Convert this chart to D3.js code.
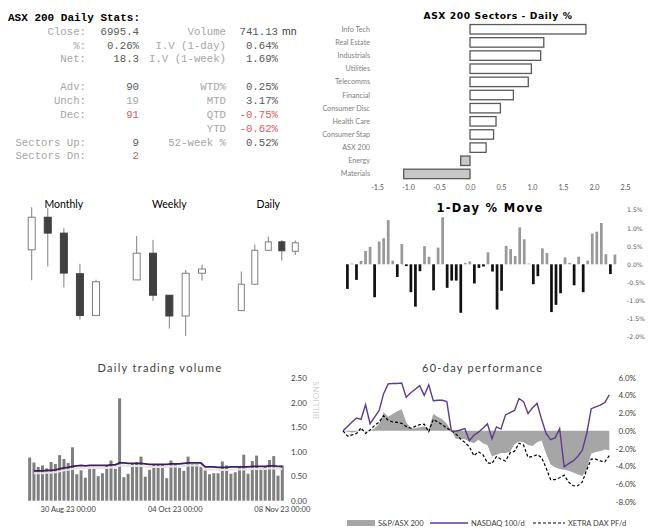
<!DOCTYPE html>
<html><head><meta charset="utf-8">
<script src="https://cdn.jsdelivr.net/npm/d3@7"></script>
<style>body{margin:0;background:#fff}svg{display:block}</style>
</head><body>
<svg id="c" width="651" height="530"></svg>
<script>
// ---------------- DATA ----------------
const statLabelsL = ["Close:","%:","Net:","Adv:","Unch:","Dec:","Sectors Up:","Sectors Dn:"];
const statValuesL = ["6995.4","0.26%","18.3","90","19","91","9","2"];
const statRowsL   = [0,1,2,4,5,6,8,9];
const statToneL   = ["dark","dark","dark","dark","light","red","dark","red"];
const statLabelsR = ["Volume","I.V (1-day)","I.V (1-week)","WTD%","MTD","QTD","YTD","52-week %"];
const statValuesR = ["741.13","0.64%","1.69%","0.25%","3.17%","-0.75%","-0.62%","0.52%"];
const statRowsR   = [0,1,2,4,5,6,7,8];
const statToneR   = ["dark","dark","dark","dark","dark","red","red","dark"];

const sectors   = ["Info Tech","Real Estate","Industrials","Utilities","Telecomms","Financial","Consumer Disc","Health Care","Consumer Stap","ASX 200","Energy","Materials"];
const sectorPct = [1.87,1.19,1.14,0.99,0.94,0.70,0.49,0.42,0.38,0.26,-0.15,-1.07];
const sectorTicks = [-1.5,-1.0,-0.5,0,0.5,1.0,1.5,2.0,2.5];

const candleTitles = ["Monthly","Weekly","Daily"];
const monthlyOHLC = [[7198,7468,7004,7405],[7405,7462,7092,7304],[7304,7335,6959,7050],[7046,7109,6755,6781],[6781,7008,6781,6995]];
const weeklyOHLC  = [[6951,7129,6951,7059],[7059,7113,6866,6889],[6889,6889,6754,6805],[6805,6991,6724,6978],[6978,7012,6948,6995]];
const dailyOHLC   = [[6851,6934,6851,6907],[6907,6991,6907,6979],[6979,7008,6979,6997],[6997,7001,6957,6978],[6977,7000,6969,6995]];
const candleDomains = [[6650,7470],[6724,7246],[6797,7071]];

const dayMove = [-0.68,0.02,-0.43,0.09,0.37,0.48,-0.91,0.63,0.72,1.22,0.10,-0.35,0.56,-0.05,-0.77,-1.17,-0.19,0.50,0.21,-0.72,
  0.46,1.30,-0.65,-0.45,-0.45,-1.34,0.04,0.08,-0.53,-0.10,-0.06,0.33,-0.20,-1.25,-0.73,0.51,0.42,0.23,1.02,0.69,
  0.02,-0.55,-0.33,0.44,0.31,-1.32,-1.12,-0.80,0.19,0.04,-0.58,0.21,-0.77,0.10,0.85,0.90,1.14,0.28,-0.27,0.27];
const dayMoveTicks = [1.5,1.0,0.5,0,-0.5,-1.0,-1.5,-2.0];

const volume = [0.88,0.78,0.69,0.72,0.66,0.79,0.75,0.93,0.85,0.77,1.09,0.54,0.62,0.47,0.69,0.69,0.50,0.56,0.72,0.82,
  0.65,2.09,0.48,0.55,0.75,0.79,0.90,0.49,0.63,0.75,0.73,0.75,0.46,0.82,0.75,0.67,0.61,0.90,0.75,0.75,
  0.69,0.62,0.54,0.56,0.56,0.80,0.72,0.55,0.58,0.69,0.94,0.55,0.81,0.92,0.65,0.69,0.83,0.91,0.51,0.72];
const volumeAvg = [null,0.61,0.61,0.61,0.62,0.62,0.63,0.65,0.67,0.68,0.70,0.71,0.72,0.71,0.72,0.72,0.72,0.72,0.72,0.73,
  0.73,0.77,0.77,0.76,0.76,0.76,0.76,0.75,0.74,0.74,0.74,0.74,0.74,0.75,0.75,0.75,0.76,0.77,0.77,0.77,
  0.77,0.69,0.69,0.69,0.68,0.68,0.68,0.69,0.69,0.69,0.69,0.69,0.70,0.70,0.70,0.70,0.71,0.71,0.70,0.70];
const volumeTicks = [0,0.5,1.0,1.5,2.0,2.5];
const volumeDateIdx = [9,34,59];
const volumeDateLabels = ["30 Aug 23 00:00","04 Oct 23 00:00","08 Nov 23 00:00"];

const perfASX = [0.0,-0.1,-0.2,-0.1,0.2,-0.1,0.0,0.3,0.8,2.1,1.6,1.9,2.2,2.45,1.0,0.3,0.3,0.4,0.5,0.2,
  1.9,1.6,1.3,0.8,0.0,-0.9,-0.9,-0.95,-1.2,-1.4,-1.0,-1.4,-1.6,-2.9,-2.7,-2.5,-2.5,-2.4,-1.5,-1.2,
  -1.3,-1.6,-1.7,-1.3,-1.1,-2.6,-3.8,-4.1,-4.3,-4.4,-4.5,-4.7,-4.9,-5.1,-4.4,-2.6,-2.4,-2.3,-2.1,-2.2];
const perfNASDAQ = [0.0,0.5,1.0,1.45,1.3,2.95,0.8,1.55,2.3,4.2,5.3,5.35,5.35,5.4,3.8,4.3,4.7,5.1,4.0,5.2,
  3.4,3.45,3.45,3.3,0.0,-0.05,0.1,0.25,-1.1,-0.5,-0.15,0.3,0.8,-0.9,0.45,0.2,1.8,2.05,2.3,3.65,
  3.3,1.95,2.6,3.1,1.3,-0.3,-1.0,-0.8,0.25,-4.05,-3.7,-3.4,-2.9,-2.2,-0.3,2.5,2.7,2.9,3.2,4.05];
const perfDAX = [0.0,-0.6,-0.45,-0.3,0.35,-0.3,0.1,0.6,1.0,1.7,1.2,1.0,0.95,0.85,0.5,0.3,0.5,0.7,0.75,-0.1,
  1.3,1.0,0.7,0.3,0.05,-0.35,-0.9,-1.3,-1.8,-2.8,-2.35,-2.7,-3.6,-3.7,-2.9,-3.2,-3.4,-2.5,-2.3,-1.4,
  -1.6,-3.0,-2.9,-2.7,-3.0,-4.2,-5.5,-5.5,-5.3,-5.0,-5.8,-6.2,-6.2,-5.8,-4.4,-3.2,-3.2,-3.4,-3.5,-2.8];
const perfTicks = [6,4,2,0,-2,-4,-6,-8];
const perfLegend = ["S&P/ASX 200","NASDAQ 100/d","XETRA DAX PF/d"];

// ---------------- DRAW ----------------
const svg = d3.select("#c");
const MONO = "'Liberation Mono','DejaVu Sans Mono',monospace";
const SANS = "Lato,'Open Sans',sans-serif";
const tone = {dark:"#595959", light:"#a6a6a6", red:"#e05a5a"};

// ---- Stats table
const stats = svg.append("g");
stats.append("text").attr("x",8).attr("y",21).text("ASX 200 Daily Stats:")
  .attr("font-family",MONO).attr("font-weight","bold").attr("font-size",11).attr("fill","#000");
const rowY = d3.scaleLinear().domain([0,9]).range([31,155.7]);
function statCol(labels, values, rows, tones, lx, vx){
  labels.forEach((l,i)=>{
    stats.append("text").attr("x",lx).attr("y",rowY(rows[i])).attr("dy","0.35em").attr("text-anchor","end")
      .attr("font-family",MONO).attr("font-size",10.7).attr("fill",tone.light).text(l);
    stats.append("text").attr("x",vx).attr("y",rowY(rows[i])).attr("dy","0.35em").attr("text-anchor","end")
      .attr("font-family",MONO).attr("font-size",10.7).attr("fill",tone[tones[i]]).text(values[i]);
  });
}
statCol(statLabelsL,statValuesL,statRowsL,statToneL,86,139);
statCol(statLabelsR,statValuesR,statRowsR,statToneR,226,278);
stats.append("text").attr("x",282).attr("y",rowY(0)).attr("dy","0.35em").attr("font-family",SANS)
  .attr("font-size",10.5).attr("fill","#404040").text("mn");

// ---- Sector bars
const sg = svg.append("g");
const sx = d3.scaleLinear().domain([-1.5,2.5]).range([377,625]);
const sy = d3.scaleBand().domain(sectors).range([22.7,180.5]).paddingInner(0.28).paddingOuter(0.14);
sg.append("text").attr("x",498).attr("y",18.5).attr("text-anchor","middle")
  .attr("font-family","'DejaVu Sans',sans-serif").attr("font-weight","bold").attr("font-size",9.2)
  .attr("letter-spacing",0.6).attr("fill","#000").text("ASX 200 Sectors - Daily %");
sg.selectAll("rect.s").data(sectors).join("rect")
  .attr("x",(d,i)=>sx(Math.min(0,sectorPct[i])))
  .attr("y",d=>sy(d)).attr("height",sy.bandwidth())
  .attr("width",(d,i)=>Math.abs(sx(sectorPct[i])-sx(0)))
  .attr("fill",(d,i)=>sectorPct[i]>=0?"#fff":"#c8c8c8")
  .attr("stroke","#595959").attr("stroke-width",1.3);
sg.selectAll("text.lab").data(sectors).join("text").attr("class","lab")
  .attr("x",370).attr("y",d=>sy(d)+sy.bandwidth()/2).attr("dy","0.35em").attr("text-anchor","end")
  .attr("font-family",SANS).attr("font-size",7.2).attr("fill","#7f7f7f").text(d=>d);
const sAxis = sg.append("g").attr("transform","translate(0,183)")
  .call(d3.axisBottom(sx).tickValues(sectorTicks).tickFormat(d=>d.toFixed(1)).tickSize(0).tickPadding(2));
sAxis.select(".domain").remove();
sAxis.selectAll("text").attr("font-family",SANS).attr("font-size",7.2).attr("fill","#595959");

// ---- Candlesticks
const candleSets = [monthlyOHLC, weeklyOHLC, dailyOHLC];
const candleX = [[31.7,96],[136.7,202],[241.3,295.3]];
const candleW = [7,7,6];
candleSets.forEach((set,k)=>{
  const g = svg.append("g");
  const x = d3.scalePoint().domain(d3.range(set.length)).range(candleX[k]);
  const y = d3.scaleLinear().domain(candleDomains[k]).range([336,207]);
  g.append("text").attr("x",(candleX[k][0]+candleX[k][1])/2).attr("y",207.5).attr("text-anchor","middle")
    .attr("font-family",SANS).attr("font-size",10.5).attr("fill","#000").text(candleTitles[k]);
  set.forEach((c,i)=>{
    const [o,h,l,cl] = c;
    g.append("line").attr("x1",x(i)).attr("x2",x(i)).attr("y1",y(h)).attr("y2",y(l))
      .attr("stroke","#7f7f7f").attr("stroke-width",1);
    const up = cl>=o;
    g.append("rect").attr("x",x(i)-candleW[k]/2).attr("width",candleW[k])
      .attr("y",y(Math.max(o,cl))).attr("height",Math.max(1,Math.abs(y(o)-y(cl))))
      .attr("fill",up?"#fff":"#404040").attr("stroke",up?"#7f7f7f":"#404040").attr("stroke-width",1);
  });
});

// ---- 1-Day % move
const dg = svg.append("g");
const dx = d3.scaleBand().domain(d3.range(dayMove.length)).range([346.05,616.3]).paddingInner(0.4);
const dy = d3.scaleLinear().domain([-2,1.5]).range([336.7,210]);
dg.append("text").attr("x",490).attr("y",212).attr("text-anchor","middle")
  .attr("font-family","'DejaVu Sans',sans-serif").attr("font-weight","bold").attr("font-size",11.5)
  .attr("letter-spacing",1.3).attr("fill","#000").text("1-Day % Move");
dg.selectAll("rect").data(dayMove).join("rect")
  .attr("x",(d,i)=>dx(i)).attr("width",dx.bandwidth())
  .attr("y",d=>dy(Math.max(0,d))).attr("height",d=>Math.max(0.6,Math.abs(dy(d)-dy(0))))
  .attr("fill",d=>d>=0?"#999":"#111");
const dAxis = dg.append("g").attr("transform","translate(625,0)")
  .call(d3.axisRight(dy).tickValues(dayMoveTicks).tickFormat(d=>d.toFixed(1)+"%").tickSize(0).tickPadding(2));
dAxis.select(".domain").remove();
dAxis.selectAll("text").attr("font-family","'DejaVu Sans',sans-serif").attr("font-size",6.2).attr("fill","#595959");

// ---- Volume
const vg = svg.append("g");
const vx = d3.scaleBand().domain(d3.range(volume.length)).range([28.17,283.8]).paddingInner(0.3);
const vy = d3.scaleLinear().domain([0,2.5]).range([500.7,378.2]);
vg.append("text").attr("x",160).attr("y",372).attr("text-anchor","middle")
  .attr("font-family",SANS).attr("font-size",11).attr("letter-spacing",1.3).attr("fill","#404040").text("Daily trading volume");
vg.selectAll("rect").data(volume).join("rect")
  .attr("x",(d,i)=>vx(i)).attr("width",vx.bandwidth())
  .attr("y",d=>vy(d)).attr("height",d=>vy(0)-vy(d)).attr("fill","#7f7f7f");
const vline = d3.line().defined(d=>d!=null).x((d,i)=>vx(i)+vx.bandwidth()/2).y(d=>vy(d));
vg.append("path").datum(volumeAvg).attr("d",vline).attr("fill","none").attr("stroke","#e6e6e6")
  .attr("stroke-width",2).attr("transform","translate(0,2.5)");
vg.append("path").datum(volumeAvg).attr("d",vline).attr("fill","none").attr("stroke","#3f1d5c").attr("stroke-width",1.8);
const vAxis = vg.append("g").attr("transform","translate(288,0)")
  .call(d3.axisRight(vy).tickValues(volumeTicks).tickFormat(d=>d.toFixed(2)).tickSize(0).tickPadding(3));
vAxis.select(".domain").remove();
vAxis.selectAll("text").attr("font-family",SANS).attr("font-size",8).attr("fill","#404040");
vg.append("text").attr("transform","translate(316,400) rotate(-90)").attr("text-anchor","middle").attr("dy","0.35em")
  .attr("font-family",SANS).attr("font-size",8).attr("letter-spacing",0.4).attr("fill","#d0d0d0").text("BILLIONS");
vg.selectAll("text.dt").data(volumeDateIdx).join("text").attr("class","dt")
  .attr("x",d=>vx(d)+vx.bandwidth()/2).attr("y",512).attr("text-anchor","middle")
  .attr("font-family",SANS).attr("font-size",7.5).attr("fill","#404040").text((d,i)=>volumeDateLabels[i]);

// ---- 60-day performance
const pg = svg.append("g");
const px = d3.scaleLinear().domain([0,perfASX.length-1]).range([343,609.3]);
const py = d3.scaleLinear().domain([-8,6]).range([501.7,377.7]);
pg.append("text").attr("x",482.7).attr("y",372).attr("text-anchor","middle")
  .attr("font-family",SANS).attr("font-size",11).attr("letter-spacing",1.3).attr("fill","#404040").text("60-day performance");
pg.append("path").datum(perfASX)
  .attr("d",d3.area().x((d,i)=>px(i)).y0(py(0)).y1(d=>py(d)))
  .attr("fill","#a6a6a6");
pg.append("path").datum(perfDAX).attr("d",d3.line().x((d,i)=>px(i)).y(d=>py(d)))
  .attr("fill","none").attr("stroke","#000").attr("stroke-width",1.2).attr("stroke-dasharray","3,2");
pg.append("path").datum(perfNASDAQ).attr("d",d3.line().x((d,i)=>px(i)).y(d=>py(d)))
  .attr("fill","none").attr("stroke","#5f3b8e").attr("stroke-width",1.4);
const pAxis = pg.append("g").attr("transform","translate(636,0)")
  .call(d3.axisLeft(py).tickValues(perfTicks).tickFormat(d=>d.toFixed(1)+"%").tickSize(0).tickPadding(0));
pAxis.select(".domain").remove();
pAxis.selectAll("text").attr("font-family",SANS).attr("font-size",8).attr("fill","#404040");

// legend
const lg = pg.append("g").attr("font-family",SANS).attr("font-size",7.5).attr("fill","#404040");
lg.append("rect").attr("x",347).attr("y",520).attr("width",28).attr("height",6).attr("fill","#a6a6a6");
lg.append("text").attr("x",378).attr("y",523).attr("dy","0.35em").text(perfLegend[0]);
lg.append("line").attr("x1",430).attr("x2",468).attr("y1",523).attr("y2",523).attr("stroke","#5f3b8e").attr("stroke-width",1.4);
lg.append("text").attr("x",471).attr("y",523).attr("dy","0.35em").text(perfLegend[1]);
lg.append("line").attr("x1",533).attr("x2",565).attr("y1",523).attr("y2",523).attr("stroke","#000").attr("stroke-width",1.2).attr("stroke-dasharray","3,2");
lg.append("text").attr("x",568).attr("y",523).attr("dy","0.35em").text(perfLegend[2]);
</script>
</body></html>
